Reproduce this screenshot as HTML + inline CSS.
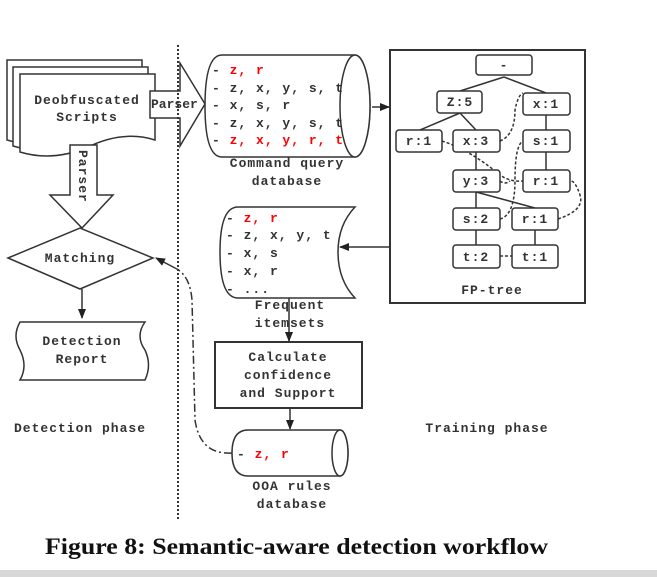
<!DOCTYPE html>
<html><head><meta charset="utf-8"><style>
html,body{margin:0;padding:0;background:#fff;}
svg{display:block;}
.m{font-family:"Liberation Mono",monospace;font-weight:bold;font-size:13px;letter-spacing:1px;fill:#333;}
.r{fill:#f00;}
</style></head><body>
<svg width="657" height="577" viewBox="0 0 657 577" xmlns="http://www.w3.org/2000/svg">
<defs><marker id="ah" markerWidth="10" markerHeight="8" refX="9" refY="4" orient="auto" markerUnits="userSpaceOnUse"><path d="M0,0 L10,4 L0,8 Z" fill="#222"/></marker></defs>
<g stroke="#333" stroke-width="1.5" fill="#fff">
<path d="M7,60 H142 V128 Q110,118 75,135 Q40,150 7,140 Z"/>
<path d="M13,67 H148 V134 Q116,124 81,141 Q46,156 13,146 Z"/>
<path d="M20,74 H155 V140 Q123,130 88,147 Q53,162 20,152 Z"/>
<path d="M150,91 H180 V63 L205,104 L180,146 V118 H150 Z"/>
<path d="M70,145 H97 V195 H113 L82,228 L50,195 H70 Z"/>
<path d="M8,258 L80,228 L153,258 L80,289 Z"/>
<path d="M20,322 H145 Q135,336 145,350 Q152,365 145,380 H20 Q28,366 20,350 Q12,336 20,322 Z"/>
<path d="M222,55 H355 A15,51 0 0 1 355,157 H222 Q205,157 205,106 Q205,55 222,55 Z"/>
<ellipse cx="355" cy="106" rx="15" ry="51"/>
<path d="M238,207 H355 Q338,225 338,252 Q338,280 355,298 H238 Q220,298 220,252 Q220,207 238,207 Z"/>
<rect x="215" y="342" width="147" height="66" stroke-width="2"/>
<path d="M248,430 H340 A8,23 0 0 1 340,476 H248 Q232,476 232,453 Q232,430 248,430 Z"/>
<ellipse cx="340" cy="453" rx="8" ry="23"/>
<rect x="390" y="50" width="195" height="253" stroke-width="2" fill="none"/>
</g>
<g stroke="#333" stroke-width="1.5" fill="none">
<line x1="82" y1="289" x2="82" y2="318" marker-end="url(#ah)"/>
<line x1="372" y1="107" x2="389" y2="107" marker-end="url(#ah)"/>
<line x1="390" y1="247" x2="340" y2="247" marker-end="url(#ah)"/>
<line x1="289" y1="298" x2="289" y2="341" marker-end="url(#ah)"/>
<line x1="290" y1="408" x2="290" y2="429" marker-end="url(#ah)"/>
<path d="M232,453 Q200,455 195,420 L192,300 Q190,275 175,268" stroke-dasharray="8,3,2,3"/>
<line x1="175" y1="268" x2="156" y2="258" marker-end="url(#ah)"/>
<line x1="178" y1="45" x2="178" y2="520" stroke-dasharray="2,2" stroke-width="2"/>
<path d="M504,77 L460,91 M504,77 L546,93 M460,113 L420,130 M460,113 L476,130 M546,115 V130 M546,152 V170 M476,152 V170 M476,192 V208 M476,192 L535,208 M476,230 V245 M535,230 V245"/>
<path d="M442,141 Q470,150 500,175 Q510,182 523,181 M500,141 Q515,135 515,110 Q518,95 523,93 M500,219 Q515,215 515,180 Q515,145 523,141 M500,256 H512 M558,219 Q585,210 580,195 Q575,180 570,181 M500,181 Q505,185 510,181" stroke-dasharray="3,2"/>
</g>
<g stroke="#333" stroke-width="1.5" fill="#fff">
<rect x="476" y="55" width="56" height="20" rx="3"/>
<rect x="437" y="91" width="45" height="22" rx="3"/>
<rect x="523" y="93" width="47" height="22" rx="3"/>
<rect x="396" y="130" width="46" height="22" rx="3"/>
<rect x="453" y="130" width="47" height="22" rx="3"/>
<rect x="523" y="130" width="47" height="22" rx="3"/>
<rect x="453" y="170" width="47" height="22" rx="3"/>
<rect x="523" y="170" width="47" height="22" rx="3"/>
<rect x="453" y="208" width="47" height="22" rx="3"/>
<rect x="512" y="208" width="46" height="22" rx="3"/>
<rect x="453" y="245" width="47" height="23" rx="3"/>
<rect x="512" y="245" width="46" height="23" rx="3"/>
</g>
<g class="m" text-anchor="middle">
<text x="504" y="69">-</text>
<text x="460" y="106">Z:5</text>
<text x="546" y="108">x:1</text>
<text x="419" y="145">r:1</text>
<text x="476" y="145">x:3</text>
<text x="546" y="145">s:1</text>
<text x="476" y="185">y:3</text>
<text x="546" y="185">r:1</text>
<text x="476" y="223">s:2</text>
<text x="535" y="223">r:1</text>
<text x="476" y="261">t:2</text>
<text x="535" y="261">t:1</text>
<text x="492" y="294">FP-tree</text>
<text x="87" y="104">Deobfuscated</text>
<text x="87" y="121">Scripts</text>
<text x="80" y="262">Matching</text>
<text x="82" y="345">Detection</text>
<text x="82" y="363">Report</text>
<text x="80" y="432">Detection phase</text>
<text x="487" y="432">Training phase</text>
<text x="287" y="167">Command query</text>
<text x="287" y="185">database</text>
<text x="290" y="309">Frequent</text>
<text x="290" y="327">itemsets</text>
<text x="288" y="361">Calculate</text>
<text x="288" y="379">confidence</text>
<text x="288" y="397">and Support</text>
<text x="292" y="490">OOA rules</text>
<text x="292" y="508">database</text>
</g>
<text class="m" x="151" y="108" fill="#333" style="letter-spacing:0">Parser</text>
<text class="m" transform="translate(79,150) rotate(90)">Parser</text>
<g class="m">
<text x="212" y="74">- <tspan class="r">z, r</tspan></text>
<text x="212" y="92">- z, x, y, s, t</text>
<text x="212" y="109">- x, s, r</text>
<text x="212" y="127">- z, x, y, s, t</text>
<text x="212" y="144">- <tspan class="r">z, x, y, r, t</tspan></text>
<text x="226" y="222">- <tspan class="r">z, r</tspan></text>
<text x="226" y="239">- z, x, y, t</text>
<text x="226" y="257">- x, s</text>
<text x="226" y="275">- x, r</text>
<text x="226" y="293">- ...</text>
<text x="237" y="458">- <tspan class="r">z, r</tspan></text>
</g>
<text x="45" y="554" font-family="Liberation Serif, serif" font-weight="bold" font-size="23" fill="#111" textLength="503" lengthAdjust="spacingAndGlyphs">Figure 8: Semantic-aware detection workflow</text>
<rect x="0" y="570" width="657" height="7" fill="#d8d8d8"/>
</svg>
</body></html>
